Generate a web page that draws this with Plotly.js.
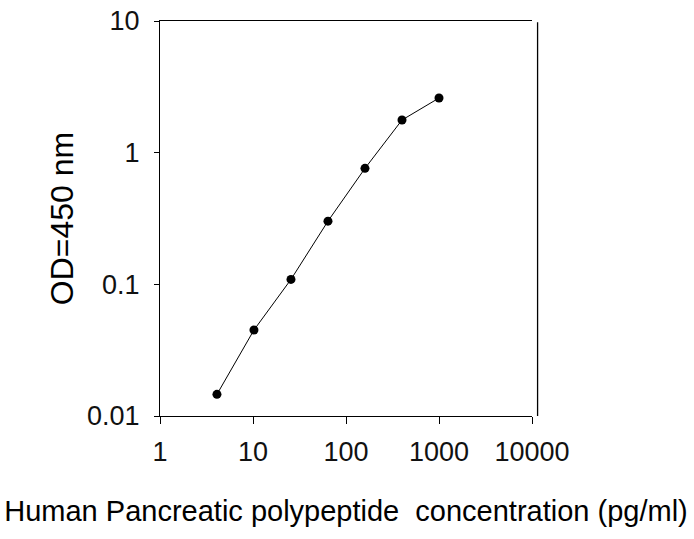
<!DOCTYPE html>
<html>
<head>
<meta charset="utf-8">
<script src="https://cdn.plot.ly/plotly-3.0.1.min.js"></script>
<style>html,body{margin:0;padding:0;background:#fff;}#chart{width:694px;height:539px;}</style>
</head>
<body>
<div id="chart"></div>
<script>
var concentration = [4.096, 10.24, 25.6, 64, 160, 400, 1000];
var od450 = [0.0146, 0.045, 0.109, 0.302, 0.76, 1.77, 2.6];
var xTickVals = [1, 10, 100, 1000, 10000];
var xTickText = ["1", "10", "100", "1000", "10000"];
var yTickVals = [0.01, 0.1, 1, 10];
var yTickText = ["0.01", "0.1", "1", "10"];
var xTitle = "Human Pancreatic polypeptide  concentration (pg/ml)";
var yTitle = "OD=450 nm";

var fontFam = "Liberation Sans, Arial, sans-serif";
var trace = {
  x: concentration, y: od450, type: "scatter", mode: "lines+markers",
  line: {color: "#000", width: 1},
  marker: {color: "#000", size: 9, symbol: "circle"},
  showlegend: false, cliponaxis: false
};
var layout = {
  width: 694, height: 539,
  margin: {l: 160, r: 162, t: 21, b: 123},
  paper_bgcolor: "#fff", plot_bgcolor: "#fff",
  font: {family: fontFam, color: "#000"},
  xaxis: {
    type: "log", range: [0, 4], tickmode: "array", tickvals: xTickVals, ticktext: xTickText,
    ticks: "outside", ticklen: 7, tickwidth: 1, tickcolor: "#000",
    showline: true, linecolor: "#000", linewidth: 1, mirror: true,
    showgrid: false, zeroline: false, tickfont: {size: 27, family: fontFam, color: "#111"},
    ticklabelstandoff: 5,
    title: {text: xTitle, font: {size: 29, family: fontFam, color: "#000"}, standoff: 34}
  },
  yaxis: {
    type: "log", range: [-2, 1], tickmode: "array", tickvals: yTickVals, ticktext: yTickText,
    ticks: "outside", ticklen: 5, tickwidth: 1, tickcolor: "#000",
    showline: true, linecolor: "#000", linewidth: 1, mirror: false,
    showgrid: false, zeroline: false, tickfont: {size: 27, family: fontFam, color: "#111"},
    ticklabelstandoff: 9,
    title: {text: yTitle, font: {size: 32, family: fontFam, color: "#000"}, standoff: 3}
  },
  shapes: [{type: "line", xref: "paper", yref: "paper", x0: 1.015, x1: 1.015, y0: 0, y1: 0.997,
            line: {color: "#000", width: 1.3}}]
};
Plotly.newPlot("chart", [trace], layout, {staticPlot: true, displayModeBar: false});
</script>
</body>
</html>
